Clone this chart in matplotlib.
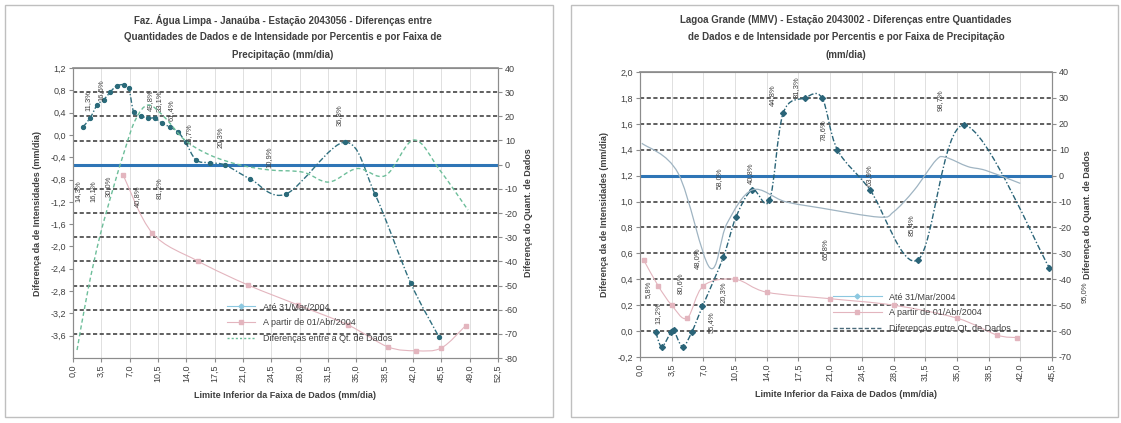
import numpy as np
import matplotlib.pyplot as plt
from matplotlib.path import Path
from matplotlib.patches import PathPatch, Rectangle
from matplotlib.lines import Line2D

plt.rcParams['font.family'] = ['Liberation Sans', 'DejaVu Sans']

# Faz. Água Limpa - intensity differences (left axis)
fa_x_ate = [1.2, 2.1, 3.0, 3.8, 4.6, 5.4, 6.3, 6.9, 7.5, 8.4, 9.3, 10.1, 11.0, 12.0, 13.0,
            13.9, 15.2, 16.9, 18.8, 21.9, 26.3, 33.6, 37.3, 41.7, 45.2]
fa_ate = [0.14, 0.30, 0.54, 0.63, 0.77, 0.88, 0.90, 0.84, 0.41, 0.34, 0.30, 0.30, 0.21, 0.14, 0.05,
          -0.13, -0.45, -0.50, -0.54, -0.79, -1.06, -0.13, -1.06, -2.65, -3.62]
fa_x_apartir = [6.2, 9.8, 15.4, 21.6, 27.8, 34.0, 38.9, 42.4, 45.5, 48.5]
fa_apartir = [-0.72, -1.76, -2.26, -2.69, -3.05, -3.41, -3.80, -3.87, -3.82, -3.42]
# difference in number of records (right axis)
fa_x_dif = [0.5, 1.85, 3.3, 4.9, 6.4, 7.7, 9.3, 11.4, 13.8, 16.9, 20.6, 24.3, 28.4, 31.6,
            35.1, 38.6, 42.1, 45.3, 48.8]
fa_dif = [-76.7, -51.8, -29.9, -10.5, 6.1, 18.5, 24.7, 19.3, 10.2, 4.0, -0.1, -2.2, -3.1, -7.2,
          -1.6, -4.5, 10.2, -2.2, -18.8]
fa_lbl_x = [1.9, 3.4, 9.6, 10.7, 12.1, 14.3, 18.2, 24.2, 32.9, 0.6, 2.5, 4.4, 8.0, 10.7]
fa_lbl_y = [0.62, 0.80, 0.62, 0.60, 0.45, 0.02, -0.05, -0.40, 0.35, -1.00, -1.00, -0.92, -1.10, -0.95]
fa_lbl_txt = ['11,3%', '16,5%', '49,8%', '33,1%', '61,4%', '16,7%', '20,3%', '10,9%', '36,8%',
              '14,3%', '16,1%', '30,0%', '40,8%', '81,2%']

# Lagoa Grande - intensity differences (left axis)
lg_x_ate = [1.75, 2.4, 3.4, 3.7, 4.7, 5.7, 6.9, 9.2, 10.6, 12.4, 14.3, 15.8, 18.2, 20.1, 21.8,
            25.4, 30.7, 35.8, 45.2]
lg_ate = [-0.01, -0.12, -0.01, 0.01, -0.12, -0.01, 0.19, 0.57, 0.88, 1.09, 1.01, 1.68, 1.80, 1.80,
          1.40, 1.09, 0.55, 1.59, 0.49]
lg_x_apartir = [0.4, 2.0, 3.5, 5.2, 7.0, 10.5, 14.0, 21.0, 28.0, 35.0, 39.4, 41.6]
lg_apartir = [0.55, 0.35, 0.20, 0.10, 0.35, 0.40, 0.30, 0.25, 0.20, 0.10, -0.03, -0.05]
# difference in number of records (right axis)
lg_x_dif = [0.2, 4.2, 7.7, 9.6, 12.4, 16.0, 20.0, 26.4, 28.0, 30.3, 32.7, 33.8, 36.2, 38.2, 42.0]
lg_dif = [12.5, 1.0, -35.5, -18.5, -5.5, -10.0, -12.5, -16.0, -14.0, -5.5, 6.0, 7.0, 3.5, 2.0, -3.0]
lg_lbl_x = [0.9, 2.0, 4.4, 6.3, 7.9, 9.2, 8.8, 12.2, 14.6, 17.3, 20.2, 25.3, 20.4, 30.0, 33.2, 49.0]
lg_lbl_y = [0.32, 0.14, 0.37, 0.56, 0.07, 0.30, 1.18, 1.22, 1.82, 1.88, 1.55, 1.20, 0.63, 0.82, 1.78, 0.30]
lg_lbl_txt = ['5,8%', '13,2%', '80,6%', '48,0%', '55,4%', '20,3%', '58,0%', '40,8%', '44,8%',
              '31,3%', '78,6%', '63,9%', '65,8%', '85,4%', '98,7%', '95,0%']

W, H = 1121, 423
TXT = '#404040'


def fmt(v):
    return f'{v:.1f}'.replace('.', ',').replace('-0,0', '0,0')


def smooth_path(x, y):
    # smoothed line (bezier through the points, like a spreadsheet "smoothed line")
    p = np.column_stack([x, y]).astype(float)
    verts, codes = [p[0]], [Path.MOVETO]
    n = len(p)
    for i in range(n - 1):
        p0 = p[i - 1] if i > 0 else p[i]
        p1, p2 = p[i], p[i + 1]
        p3 = p[i + 2] if i + 2 < n else p2
        verts += [p1 + (p2 - p0) / 6, p2 - (p3 - p1) / 6, p2]
        codes += [Path.CURVE4] * 3
    return Path(verts, codes)


def curve(ax, x, y, color, lw, ls, marker, ms, mcolor, z=3):
    ax.add_patch(PathPatch(smooth_path(x, y), fill=False, edgecolor=color, lw=lw,
                           linestyle=ls, zorder=z))
    ax.plot(x, y, linestyle='none', marker=marker, ms=ms, color=mcolor, zorder=z + 1)


def setup(ax, axr, xmax, ylo, yhi, lticks, rlo, rhi, rticks, zero):
    ax.set_xlim(0, xmax)
    ax.set_ylim(ylo, yhi)
    axr.set_ylim(rlo, rhi)
    xt = np.arange(0, xmax + 0.01, 3.5)
    ax.set_xticks(xt)
    ax.set_xticklabels([fmt(v) for v in xt], rotation=90, fontsize=6.5, color=TXT)
    ax.set_yticks(lticks)
    ax.set_yticklabels([fmt(v) for v in lticks], fontsize=6.5, color=TXT)
    axr.set_yticks(rticks)
    axr.set_yticklabels([f'{v:.0f}' for v in rticks], fontsize=6.5, color=TXT)
    ax.grid(axis='x', color='#DADADA', lw=0.6)
    ax.set_axisbelow(True)
    # horizontal guide lines follow the right scale
    for g in rticks:
        yl = ylo + (g - rlo) * (yhi - ylo) / (rhi - rlo)
        if g == zero:
            ax.axhline(yl, color='#2E75B6', lw=2.2, zorder=2)
        elif rlo < g < rhi:
            ax.axhline(yl, color='#444444', lw=1.2, ls=(0, (2.5, 1.5)), zorder=1.5)
    for a in (ax, axr):
        for s in a.spines.values():
            s.set_color('#8C8C8C')
        a.tick_params(length=3, color='#8C8C8C', pad=2)
    ax.spines['top'].set_linewidth(1.2)


def pct_labels(ax, xs, ys, txts):
    for x, y, t in zip(xs, ys, txts):
        ax.text(x, y, t, rotation=90, fontsize=5.5, color=TXT, ha='center', va='center',
                clip_on=False, zorder=6)


fig = plt.figure(figsize=(W / 100, H / 100), dpi=100)

# panel frames
for x0, x1 in ((5, 553), (571, 1118)):
    fig.patches.append(Rectangle((x0 / W, 1 - 417 / H), (x1 - x0) / W, 412 / H,
                                 transform=fig.transFigure, fill=False,
                                 edgecolor='#BFBFBF', lw=1))

# ---- Faz. Água Limpa ----
ax1 = fig.add_axes([73 / W, 1 - 358 / H, (498 - 73) / W, (358 - 68) / H])
ax1r = ax1.twinx()
setup(ax1, ax1r, 52.5, -4.0, 1.2, np.round(np.arange(1.2, -3.61, -0.4), 1),
      -80, 40, np.arange(40, -81, -10), 0)
curve(ax1, fa_x_apartir, fa_apartir, '#E3B5BE', 0.8, '-', 's', 2.5, '#E3B5BE')
curve(ax1r, fa_x_dif, fa_dif, '#6DBE9A', 1.0, (0, (3, 2)), 'none', 0, '#6DBE9A')
curve(ax1, fa_x_ate, fa_ate, '#2F6F7F', 1.0, (0, (4, 1.5, 1, 1.5)), 'o', 2.8, '#2A6A7A')
pct_labels(ax1, fa_lbl_x, fa_lbl_y, fa_lbl_txt)
ax1.set_xlabel('Limite Inferior da Faixa de Dados (mm/dia)', fontsize=6.5,
               fontweight='bold', color=TXT, labelpad=6)
ax1.set_ylabel('Diferença da de Intensidades (mm/dia)', fontsize=6.5,
               fontweight='bold', color=TXT, labelpad=6)
ax1r.set_ylabel('Diferença do Quant. de Dados', fontsize=6.5, fontweight='bold',
                color=TXT, rotation=90, labelpad=4)
for i, line in enumerate(['Faz. Água Limpa - Janaúba - Estação 2043056 - Diferenças entre',
                          'Quantidades de Dados e de Intensidade por Percentis e por Faixa de',
                          'Precipitação (mm/dia)']):
    fig.text(283 / W, 1 - (20 + 17.5 * i) / H, line, ha='center', va='center',
             fontsize=7, fontweight='bold', color=TXT)

h1 = [Line2D([], [], color='#8CC8E0', marker='D', ms=2.5, lw=0.8),
      Line2D([], [], color='#E3B5BE', marker='s', ms=2.5, lw=0.8),
      Line2D([], [], color='#6DBE9A', lw=1.0, ls=(0, (1.5, 1.5)))]
fig.legend(h1, ['Até 31/Mar/2004', 'A partir de 01/Abr/2004', 'Diferenças entre a Qt. de Dados'],
           loc='upper left', bbox_to_anchor=(222 / W, 1 - 298 / H), frameon=False,
           fontsize=6.5, handlelength=3.2, labelspacing=0.75, borderpad=0, labelcolor=TXT)

# ---- Lagoa Grande ----
ax2 = fig.add_axes([640 / W, 1 - 357 / H, (1052 - 640) / W, (357 - 72) / H])
ax2r = ax2.twinx()
setup(ax2, ax2r, 45.5, -0.2, 2.0, np.round(np.arange(2.0, -0.21, -0.2), 1),
      -70, 40, np.arange(40, -71, -10), 0)
curve(ax2, lg_x_apartir, lg_apartir, '#E3B5BE', 0.8, '-', 's', 2.5, '#E3B5BE')
curve(ax2r, lg_x_dif, lg_dif, '#9FB4C2', 0.9, '-', 'none', 0, '#9FB4C2')
curve(ax2, lg_x_ate, lg_ate, '#2A6478', 1.0, (0, (4, 1.5, 1, 1.5)), 'D', 3, '#2A6478')
pct_labels(ax2, lg_lbl_x, lg_lbl_y, lg_lbl_txt)
ax2.set_xlabel('Limite Inferior da Faixa de Dados (mm/dia)', fontsize=6.5,
               fontweight='bold', color=TXT, labelpad=6)
ax2.set_ylabel('Diferença da de Intensidades (mm/dia)', fontsize=6.5,
               fontweight='bold', color=TXT, labelpad=6)
ax2r.set_ylabel('Diferença do Quant. de Dados', fontsize=6.5, fontweight='bold',
                color=TXT, rotation=90, labelpad=8)
for i, line in enumerate(['Lagoa Grande (MMV) - Estação 2043002 - Diferenças entre Quantidades',
                          'de Dados e de Intensidade por Percentis e por Faixa de Precipitação',
                          '(mm/dia)']):
    fig.text(846 / W, 1 - (20 + 17.5 * i) / H, line, ha='center', va='center',
             fontsize=7, fontweight='bold', color=TXT)

h2 = [Line2D([], [], color='#8CC8E0', marker='D', ms=2.5, lw=0.8),
      Line2D([], [], color='#E3B5BE', marker='s', ms=2.5, lw=0.8),
      Line2D([], [], color='#4A6A7A', lw=1.0, ls=(0, (3, 1.5)))]
fig.legend(h2, ['Até 31/Mar/2004', 'A partir de 01/Abr/2004', 'Diferenças entre Qt. de Dados'],
           loc='upper left', bbox_to_anchor=(828 / W, 1 - 288 / H), frameon=False,
           fontsize=6.5, handlelength=5.5, labelspacing=0.75, borderpad=0, labelcolor=TXT)

fig.savefig('out.png', dpi=100)
